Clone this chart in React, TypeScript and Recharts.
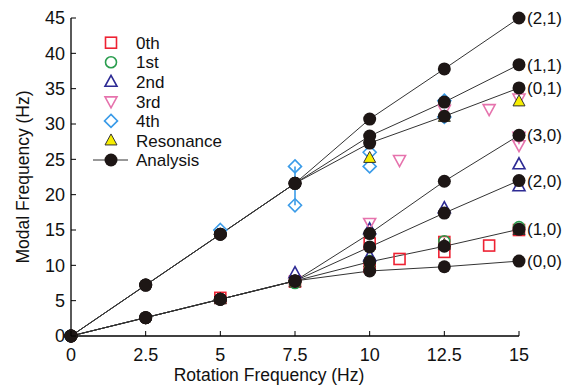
import { ComposedChart, Line, Scatter, XAxis, YAxis, Legend, LabelList, ReferenceLine } from 'recharts'

// analysis curves, one value per rotation frequency
const rotation = [0, 2.5, 5, 7.5, 10, 12.5, 15]
const mode21 = [0, 7.2, 14.4, 21.6, 30.7, 37.8, 45]
const mode11 = [0, 7.2, 14.4, 21.6, 28.3, 33.1, 38.4]
const mode01 = [0, 7.2, 14.4, 21.6, 27.3, 31.1, 35.1]
const mode30 = [0, 2.6, 5.2, 7.8, 14.5, 21.9, 28.4]
const mode20 = [0, 2.6, 5.2, 7.8, 12.6, 17.4, 22.0]
const mode10 = [0, 2.6, 5.2, 7.8, 10.5, 12.7, 15.1]
const mode00 = [0, 2.6, 5.2, 7.8, 9.2, 9.8, 10.6]
const modeNames = ['(2,1)', '(1,1)', '(0,1)', '(3,0)', '(2,0)', '(1,0)', '(0,0)']
const modeValues = [mode21, mode11, mode01, mode30, mode20, mode10, mode00]

// measured points
const zerothX = [5, 7.5, 10, 10, 11, 12.5, 12.5, 14, 15]
const zerothY = [5.4, 7.7, 13.1, 9.8, 10.9, 13.3, 11.9, 12.8, 15.0]
const firstX = [7.5, 10, 12.5, 15]
const firstY = [7.5, 10.6, 13.4, 15.4]
const secondX = [7.5, 10, 10, 12.5, 15, 15]
const secondY = [8.9, 15.1, 11.3, 18.1, 24.3, 21.2]
const thirdX = [10, 11, 12.5, 14, 15, 15, 15]
const thirdY = [16.0, 24.9, 32.0, 32.1, 33.6, 28.2, 27.0]
const fourthX = [5, 7.5, 7.5, 10, 10, 12.5, 12.5]
const fourthY = [15.0, 24.0, 18.5, 26.0, 24.0, 33.3, 31.0]
const fourthSpreadX = [7.5, 7.5]
const fourthSpreadY = [24.0, 18.5]
const resonanceX = [5, 7.5, 10, 10, 12.5, 12.5, 15, 15]
const resonanceY = [5.2, 7.6, 25.2, 10.4, 31.0, 12.9, 33.2, 15.0]

const xTicks = [0, 2.5, 5, 7.5, 10, 12.5, 15]
const yTicks = [0, 5, 10, 15, 20, 25, 30, 35, 40, 45]

const RED = '#ee2233'
const GREEN = '#2a9d4e'
const NAVY = '#2d2a94'
const PINK = '#e673ad'
const SKY = '#3a9be8'
const YELLOW = '#f7ee00'
const DOT = '#1d1615'
const FONT = '"Liberation Sans", Arial, sans-serif'
const TICK = 5

const pts = (xs: number[], ys: number[]) => xs.map((x, i) => ({ x, y: ys[i] }))

function marker(kind: string, cx: number, cy: number) {
  switch (kind) {
    case 'square':
      return <rect x={cx - 5.5} y={cy - 5.5} width={11} height={11} fill="none" stroke={RED} strokeWidth={1.6} />
    case 'circle':
      return <circle cx={cx} cy={cy} r={5.5} fill="none" stroke={GREEN} strokeWidth={1.6} />
    case 'up':
      return <polygon points={`${cx},${cy - 6.5} ${cx + 6},${cy + 4.5} ${cx - 6},${cy + 4.5}`} fill="none" stroke={NAVY} strokeWidth={1.6} />
    case 'down':
      return <polygon points={`${cx},${cy + 6.5} ${cx + 6},${cy - 4.5} ${cx - 6},${cy - 4.5}`} fill="none" stroke={PINK} strokeWidth={1.6} />
    case 'diamond':
      return <polygon points={`${cx},${cy - 6.5} ${cx + 6.5},${cy} ${cx},${cy + 6.5} ${cx - 6.5},${cy}`} fill="none" stroke={SKY} strokeWidth={1.6} />
    case 'res':
      return <polygon points={`${cx},${cy - 6.5} ${cx + 6},${cy + 4.5} ${cx - 6},${cy + 4.5}`} fill={YELLOW} stroke="#333" strokeWidth={1} />
    default:
      return <g />
  }
}

const shapeOf = (kind: string) => (p: any) => marker(kind, p.cx, p.cy)

const legendItems = [
  { name: '0th', kind: 'square' },
  { name: '1st', kind: 'circle' },
  { name: '2nd', kind: 'up' },
  { name: '3rd', kind: 'down' },
  { name: '4th', kind: 'diamond' },
  { name: 'Resonance', kind: 'res' },
  { name: 'Analysis', kind: 'analysis' },
]

function ChartLegend() {
  return (
    <svg width={170} height={145}>
      {legendItems.map((it, i) => {
        const cy = 10.7 + i * 19.55
        return (
          <g key={it.name}>
            {it.kind === 'analysis' ? (
              <g>
                <line x1={5} x2={40} y1={cy} y2={cy} stroke="#333" strokeWidth={1} />
                <circle cx={23} cy={cy} r={6.5} fill={DOT} />
              </g>
            ) : marker(it.kind, 23, cy)}
            <text x={48} y={cy + 6.2} fontSize={17} fontFamily={FONT} fill="#111">{it.name}</text>
          </g>
        )
      })}
    </svg>
  )
}

const endLabel = (name: string) => (props: any) => {
  if (props.index !== rotation.length - 1) return null
  return (
    <text x={props.x + 8} y={props.y + 6} fontSize={17} fontFamily={FONT} fill="#111">{name}</text>
  )
}

// inward ticks drawn together with the labels
const BOTTOM_GAP = 12
const LEFT_GAP = 6
const BottomTick = (p: any) => (
  <g>
    <line x1={p.x} x2={p.x} y1={p.y - BOTTOM_GAP} y2={p.y - BOTTOM_GAP - TICK} stroke="#000" />
    <text x={p.x} y={p.y} dy="0.71em" textAnchor="middle" fontSize={18} fontFamily={FONT} fill="#111">{p.payload.value}</text>
  </g>
)
const LeftTick = (p: any) => (
  <g>
    <line x1={p.x + LEFT_GAP} x2={p.x + LEFT_GAP + TICK} y1={p.y} y2={p.y} stroke="#000" />
    <text x={p.x} y={p.y} dy="0.355em" textAnchor="end" fontSize={18} fontFamily={FONT} fill="#111">{p.payload.value}</text>
  </g>
)
const TopTick = (p: any) => <line x1={p.x} x2={p.x} y1={p.y} y2={p.y + TICK} stroke="#000" />
const RightTick = (p: any) => <line x1={p.x} x2={p.x - TICK} y1={p.y} y2={p.y} stroke="#000" />

export default function App() {
  return (
    <div style={{ position: 'absolute', left: 0, top: 0, background: '#fff' }}>
      <ComposedChart width={571} height={387} margin={{ top: 18, right: 52, bottom: 0, left: 0 }}>
        <XAxis
          type="number" dataKey="x" domain={[0, 15]} ticks={xTicks} height={51}
          axisLine={{ stroke: '#000', strokeWidth: 1.3 }} tickLine={false}
          tickSize={0} tickMargin={BOTTOM_GAP} tick={<BottomTick />}
          label={{ value: 'Rotation Frequency (Hz)', position: 'insideBottom', offset: 6, dx: -26, fill: '#111', fontSize: 17.5, fontFamily: FONT }}
        />
        <XAxis
          xAxisId="top" orientation="top" type="number" domain={[0, 15]} ticks={xTicks} height={0}
          axisLine={{ stroke: '#000', strokeWidth: 1.3 }} tickLine={false} tickSize={0} tickMargin={0} tick={<TopTick />}
        />
        <YAxis
          type="number" domain={[0, 45]} ticks={yTicks} width={71}
          axisLine={{ stroke: '#000', strokeWidth: 1.3 }} tickLine={false}
          tickSize={0} tickMargin={LEFT_GAP} tick={<LeftTick />}
          label={{ value: 'Modal Frequency (Hz)', angle: -90, position: 'center', dx: -13, fill: '#111', fontSize: 17.5, fontFamily: FONT }}
        />
        <YAxis
          yAxisId="right" orientation="right" type="number" domain={[0, 45]} ticks={yTicks} width={0}
          axisLine={{ stroke: '#000', strokeWidth: 1.3 }} tickLine={false} tickSize={0} tickMargin={0} tick={<RightTick />}
        />
        <Legend
          layout="vertical" align="center" verticalAlign="middle"
          wrapperStyle={{ left: 88, top: 32, width: 170, height: 145 }}
          content={() => <ChartLegend />}
        />
        <ReferenceLine
          segment={pts(fourthSpreadX, fourthSpreadY)}
          stroke={SKY} strokeWidth={1.6} ifOverflow="visible"
        />
        {modeValues.map((vals, i) => (
          <Line
            key={modeNames[i]} data={pts(rotation, vals)} dataKey="y" type="linear"
            stroke="#333" strokeWidth={1} isAnimationActive={false} activeDot={false}
            dot={{ r: 6.5, fill: DOT, stroke: DOT, strokeWidth: 0 }}
          >
            <LabelList dataKey="y" content={endLabel(modeNames[i])} />
          </Line>
        ))}
        <Scatter data={pts(zerothX, zerothY)} dataKey="y" shape={shapeOf('square')} isAnimationActive={false} />
        <Scatter data={pts(firstX, firstY)} dataKey="y" shape={shapeOf('circle')} isAnimationActive={false} />
        <Scatter data={pts(secondX, secondY)} dataKey="y" shape={shapeOf('up')} isAnimationActive={false} />
        <Scatter data={pts(thirdX, thirdY)} dataKey="y" shape={shapeOf('down')} isAnimationActive={false} />
        <Scatter data={pts(fourthX, fourthY)} dataKey="y" shape={shapeOf('diamond')} isAnimationActive={false} />
        <Scatter data={pts(resonanceX, resonanceY)} dataKey="y" shape={shapeOf('res')} isAnimationActive={false} />
      </ComposedChart>
    </div>
  )
}
